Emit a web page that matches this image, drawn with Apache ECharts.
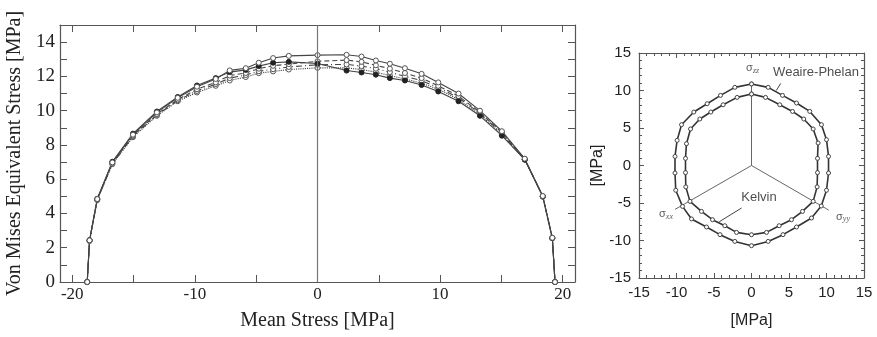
<!DOCTYPE html>
<html><head><meta charset="utf-8">
<script src="https://cdn.jsdelivr.net/npm/echarts@6/dist/echarts.min.js"></script>
<style>html,body{margin:0;padding:0;background:#fff}#c{width:877px;height:337px}</style>
</head><body><div id="c"></div>
<script>
// ---- Left chart: yield surface (mean stress vs von Mises stress)
const meanStress = [-18.78,-18.59,-17.96,-16.73,-15.05,-13.1,-11.4,-9.83,-8.3,-7.16,-5.85,-4.79,-3.62,-2.34,0,2.37,3.59,4.76,5.9,7.13,8.49,9.85,11.5,13.25,15.04,16.9,18.37,19.15,19.37];
const vmA = [0,2.43,4.84,6.98,8.6,9.9,10.75,11.4,11.85,12.35,12.48,12.8,13.07,13.2,13.24,13.26,13.16,12.93,12.74,12.48,12.15,11.65,11.0,10.0,8.8,7.2,5.02,2.58,0];
const vmB = [0,2.45,4.86,7.02,8.66,9.95,10.8,11.47,11.9,12.25,12.38,12.6,12.8,12.85,12.75,12.34,12.23,12.1,11.9,11.76,11.5,11.12,10.55,9.7,8.54,7.14,5.0,2.57,0];
const vmC = [0,2.42,4.82,6.95,8.55,9.8,10.65,11.25,11.65,12.05,12.2,12.45,12.62,12.72,12.88,12.95,12.85,12.65,12.45,12.2,11.9,11.45,10.85,9.9,8.72,7.18,5.0,2.57,0];
const vmD = [0,2.4,4.8,6.9,8.5,9.75,10.6,11.15,11.55,11.9,12.08,12.3,12.42,12.55,12.68,12.7,12.6,12.45,12.25,12.0,11.75,11.35,10.75,9.85,8.66,7.16,4.99,2.56,0];
const vmE = [0,2.4,4.78,6.88,8.45,9.7,10.55,11.06,11.45,11.76,11.96,12.19,12.29,12.4,12.5,12.5,12.4,12.25,12.05,11.85,11.6,11.25,10.65,9.78,8.6,7.15,4.98,2.55,0];
const leftXTicks = [-20,-15,-10,-5,0,5,10,15,20];
const leftXLabels = [-20,-10,0,10,20];

// ---- Right chart: deviatoric plane sections
const wpX = [0,2.22,4.13,6.0,7.77,9.33,10.0,10.27,10.27,10.0,9.3,8.0,6.0,4.2,2.22,0,-2.22,-4.2,-6.0,-8.0,-9.2,-10.1,-10.2,-10.2,-9.92,-9.33,-7.69,-5.91,-4.13,-2.22,0];
const wpY = [10.87,10.42,9.35,8.33,7.21,5.44,3.44,1.21,-1.0,-3.3,-5.4,-7.0,-8.2,-9.22,-10.12,-10.69,-10.12,-9.22,-8.2,-7.13,-5.45,-3.3,-1.0,1.21,3.35,5.44,7.13,8.24,9.35,10.42,10.87];
const kX = [0,1.87,3.77,5.47,6.97,8.22,8.88,8.8,8.8,8.75,8.22,6.8,5.33,3.69,2.0,0,-2.0,-3.56,-5.2,-6.67,-8.2,-8.76,-8.8,-8.8,-8.67,-8.13,-6.89,-5.42,-3.78,-1.92,0];
const kY = [9.53,9.08,8.1,7.21,6.2,4.87,3.0,0.95,-0.95,-2.85,-4.78,-6.12,-7.23,-8.03,-8.92,-9.23,-8.92,-8.03,-7.23,-6.12,-4.78,-2.85,-0.95,0.95,2.91,4.87,6.2,7.13,8.1,9.08,9.53];
const axisEnds = [[0,10.87],[-10.2,-5.85],[10.3,-5.95]];
const annotations = [
  {x:0.15, y:13.0, text:'σ', sub:'zz'},
  {x:8.6, y:12.4, text:'Weaire-Phelan', sub:''},
  {x:1.0, y:-4.3, text:'Kelvin', sub:''},
  {x:-11.4, y:-6.5, text:'σ', sub:'xx'},
  {x:12.2, y:-6.8, text:'σ', sub:'yy'}
];
const leaderWP = [[3.9,10.95],[3.3,10.0]];
const leaderK = [[-1.33,-5.67],[-4.3,-7.5]];

const zip = (xs, ys) => xs.map((x,i)=>[x, ys[i]]);
const SERIF = '"Liberation Serif","DejaVu Serif",serif';
const SANS = '"Liberation Sans",Arial,sans-serif';
const AX = '#555';

function leftSeries(name, ys, type, marker) {
  return {
    name, type:'line', xAxisIndex:0, yAxisIndex:0, data: zip(meanStress, ys),
    symbol:'circle', symbolSize:5, showSymbol:true,
    lineStyle:{color:'#444', width:1.1, type:type},
    itemStyle: marker==='fill' ? {color:'#222', borderColor:'#222', borderWidth:1}
                               : {color:'#fff', borderColor:'#555', borderWidth:1},
    z: 3
  };
}

const chart = echarts.init(document.getElementById('c'), null, {renderer:'canvas'});
const option = {
  animation:false,
  backgroundColor:'#fff',
  grid:[
    {left:60, top:25, width:515, height:257, containLabel:false, outerBoundsMode:'none'},
    {left:639, top:53, width:225, height:225, containLabel:false, outerBoundsMode:'none'}
  ],
  xAxis:[
    {gridIndex:0, type:'value', min:-21, max:21, position:'bottom',
     axisLine:{show:true, onZero:false, lineStyle:{color:AX, width:1.2}},
     axisTick:{show:true, inside:true, length:7, customValues:leftXTicks, lineStyle:{color:AX}},
     axisLabel:{customValues:leftXLabels, fontFamily:SERIF, fontSize:17, color:'#222', margin:4},
     splitLine:{show:false},
     name:'Mean Stress [MPa]', nameLocation:'middle', nameGap:29,
     nameTextStyle:{fontFamily:SERIF, fontSize:20, color:'#222'}},
    {gridIndex:0, type:'value', min:-21, max:21, position:'top',
     axisLine:{show:true, onZero:false, lineStyle:{color:AX, width:1.2}},
     axisTick:{show:true, inside:true, length:7, customValues:leftXTicks, lineStyle:{color:AX}},
     axisLabel:{show:false}, splitLine:{show:false}},
    {gridIndex:1, type:'value', min:-15, max:15, interval:5, position:'bottom',
     axisLine:{show:true, onZero:false, lineStyle:{color:AX, width:1.2}},
     axisTick:{show:true, inside:true, length:5, lineStyle:{color:AX}},
     minorTick:{show:true, splitNumber:5, length:3, lineStyle:{color:AX}},
     axisLabel:{fontFamily:SANS, fontSize:15, color:'#222', margin:7},
     splitLine:{show:false},
     name:'[MPa]', nameLocation:'middle', nameGap:35,
     nameTextStyle:{fontFamily:SANS, fontSize:16, color:'#222'}},
    {gridIndex:1, type:'value', min:-15, max:15, interval:5, position:'top',
     axisLine:{show:true, onZero:false, lineStyle:{color:AX, width:1.2}},
     axisTick:{show:true, inside:true, length:5, lineStyle:{color:AX}},
     minorTick:{show:true, splitNumber:5, length:3, lineStyle:{color:AX}},
     axisLabel:{show:false}, splitLine:{show:false}}
  ],
  yAxis:[
    {gridIndex:0, type:'value', min:0, max:15, interval:1, position:'left',
     axisLine:{show:true, onZero:false, lineStyle:{color:AX, width:1.2}},
     axisTick:{show:true, inside:true, length:7, lineStyle:{color:AX}},
     axisLabel:{fontFamily:SERIF, fontSize:19, color:'#222', margin:5,
       formatter:v => (v%2===0 && v<15) ? String(v) : ''},
     splitLine:{show:false},
     name:'Von Mises Equivalent Stress [MPa]', nameLocation:'middle', nameGap:35,
     nameTextStyle:{fontFamily:SERIF, fontSize:20, color:'#222'}},
    {gridIndex:0, type:'value', min:0, max:15, interval:1, position:'right',
     axisLine:{show:true, onZero:false, lineStyle:{color:AX, width:1.2}},
     axisTick:{show:true, inside:true, length:7, lineStyle:{color:AX}},
     axisLabel:{show:false}, splitLine:{show:false}},
    {gridIndex:1, type:'value', min:-15, max:15, interval:5, position:'left',
     axisLine:{show:true, onZero:false, lineStyle:{color:AX, width:1.2}},
     axisTick:{show:true, inside:true, length:5, lineStyle:{color:AX}},
     minorTick:{show:true, splitNumber:5, length:3, lineStyle:{color:AX}},
     axisLabel:{fontFamily:SANS, fontSize:15, color:'#222', margin:8},
     splitLine:{show:false},
     name:'[MPa]', nameLocation:'middle', nameGap:33,
     nameTextStyle:{fontFamily:SANS, fontSize:16, color:'#222'}},
    {gridIndex:1, type:'value', min:-15, max:15, interval:5, position:'right',
     axisLine:{show:true, onZero:false, lineStyle:{color:AX, width:1.2}},
     axisTick:{show:true, inside:true, length:5, lineStyle:{color:AX}},
     minorTick:{show:true, splitNumber:5, length:3, lineStyle:{color:AX}},
     axisLabel:{show:false}, splitLine:{show:false}}
  ],
  series:[
    Object.assign(leftSeries('E', vmE, 'dotted', 'open'), {
      markLine:{silent:true, symbol:'none', label:{show:false},
        lineStyle:{color:'#777', width:1.2, type:'solid'}, data:[{xAxis:0}]}
    }),
    leftSeries('D', vmD, [6,3,1,3], 'open'),
    leftSeries('C', vmC, [5,3], 'open'),
    leftSeries('B', vmB, 'solid', 'fill'),
    leftSeries('A', vmA, 'solid', 'open'),
    // right chart principal stress axes
    ...axisEnds.map(e => ({type:'line', xAxisIndex:2, yAxisIndex:2, data:[[0,0], e],
      symbol:'none', lineStyle:{color:'#666', width:1}, z:2})),
    {type:'line', xAxisIndex:2, yAxisIndex:2, data:leaderWP, symbol:'none', lineStyle:{color:'#444', width:1}},
    {type:'line', xAxisIndex:2, yAxisIndex:2, data:leaderK, symbol:'none', lineStyle:{color:'#444', width:1}},
    {name:'Weaire-Phelan', type:'line', xAxisIndex:2, yAxisIndex:2, data:zip(wpX, wpY),
     symbol:'circle', symbolSize:4, showSymbol:true,
     lineStyle:{color:'#333', width:1.6}, itemStyle:{color:'#fff', borderColor:'#444', borderWidth:1}, z:4},
    {name:'Kelvin', type:'line', xAxisIndex:2, yAxisIndex:2, data:zip(kX, kY),
     symbol:'circle', symbolSize:4, showSymbol:true,
     lineStyle:{color:'#333', width:1.6}, itemStyle:{color:'#fff', borderColor:'#444', borderWidth:1}, z:4},
    {type:'scatter', xAxisIndex:2, yAxisIndex:2, symbolSize:0, z:6,
     data: annotations.map(a => ({value:[a.x, a.y], text:a.text, sub:a.sub})),
     label:{show:true, position:'inside',
       formatter: p => p.data.sub ? '{g|' + p.data.text + '}{s|' + p.data.sub + '}' : '{t|' + p.data.text + '}',
       rich:{
         t:{fontFamily:SANS, fontSize:13, color:'#222', backgroundColor:'#fff', padding:[0,1]},
         g:{fontFamily:SANS, fontSize:11, color:'#333'},
         s:{fontFamily:'"Liberation Serif",serif', fontStyle:'italic', fontSize:8, color:'#333', padding:[5,0,0,0]}
       }}}
  ]
};
chart.setOption(option);
</script>
</body></html>
